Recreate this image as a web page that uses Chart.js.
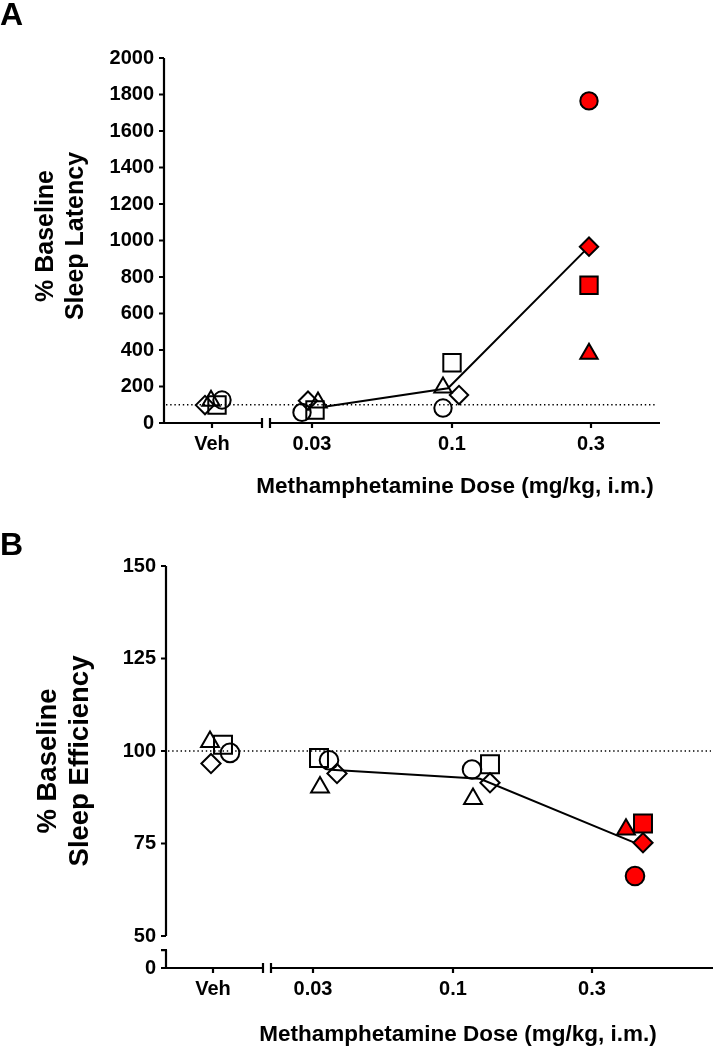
<!DOCTYPE html>
<html>
<head>
<meta charset="utf-8">
<script src="https://cdn.jsdelivr.net/npm/chart.js@4.4.0/dist/chart.umd.min.js"></script>
<style>
  body { margin: 0; background: #fff; }
  canvas { display: block; }
</style>
</head>
<body>
<canvas id="chartA" width="713" height="525"></canvas>
<canvas id="chartB" width="713" height="525"></canvas>
<script>
// ---- data ----
var doses = ["Veh", "0.03", "0.1", "0.3"];

// A: % baseline sleep latency, one array per animal (symbol)
var latCircle = [126, 58, 82, 1765];
var latSquare = [99, 71, 330, 755];
var latTriangle = [122, 112, 195, 380];
var latDiamond = [98, 122, 153, 966];
var latTicks = [0, 200, 400, 600, 800, 1000, 1200, 1400, 1600, 1800, 2000];

// B: % baseline sleep efficiency
var effCircle = [99.5, 97.5, 95.0, 66.2];
var effSquare = [101.7, 98.1, 96.4, 80.4];
var effTriangle = [102.5, 90.2, 87.1, 78.8];
var effDiamond = [96.6, 93.9, 91.4, 75.2];
var effTicks = [0, 50, 75, 100, 125, 150];

var baseline = 100;

// ---- layout (x units are 100 px) ----
var PX = 100;
var tickPos = [0, 1, 2.4, 3.79];
var xBreak = [0.5, 0.58];

// horizontal scatter of the symbols, in px from the tick
var jitA = {
  circle: [10, -10, -9, -2],
  square: [5, 3, 0, -2],
  triangle: [-1, 6, -9, -2],
  diamond: [-7, -4, 7, -2],
  mean: [14, -4, -2]
};
var jitB = {
  circle: [17, 16, 19, 43],
  square: [10, 6, 37, 51],
  triangle: [-3, 7, 20, 34],
  diamond: [-2, 24, 37, 51],
  mean: [18, 27, 43]
};

var FONT = "'Liberation Sans', Arial, sans-serif";

function symbolSet(values, shape, radius, jit) {
  return {
    type: "scatter",
    data: values.map(function(v, i) {
      return { x: tickPos[i] + jit[i] / PX, y: v };
    }),
    pointStyle: shape,
    pointRadius: radius,
    pointHoverRadius: radius,
    pointBorderWidth: 2,
    pointBorderColor: "#000",
    pointBackgroundColor: values.map(function(v, i) {
      return i === 3 ? "#ff0000" : "rgba(0,0,0,0)";
    })
  };
}

function meanSet(cols, jit) {
  var pts = [];
  for (var i = 1; i < doses.length; i++) {
    var sum = 0;
    for (var c = 0; c < cols.length; c++) sum += cols[c][i];
    pts.push({ x: tickPos[i] + jit[i - 1] / PX, y: sum / cols.length });
  }
  return {
    type: "scatter",
    showLine: true,
    data: pts,
    borderColor: "#000",
    borderWidth: 2,
    pointRadius: 0
  };
}

// axis lines, breaks, tick marks, dotted baseline
var axisPlugin = {
  id: "axisLines",
  beforeDatasetsDraw: function(chart, args, o) {
    var ctx = chart.ctx;
    var xs = chart.scales.x;
    var ys = chart.scales.y;
    var ca = chart.chartArea;
    var x0 = ca.left;
    var yb = ca.bottom;
    ctx.save();
    ctx.strokeStyle = "#000";
    ctx.lineWidth = 2.2;

    // y axis
    ctx.beginPath();
    if (o.yBreak) {
      ctx.moveTo(x0, ys.getPixelForValue(ys.max));
      ctx.lineTo(x0, ys.getPixelForValue(o.yBreak[1]));
      ctx.moveTo(x0, ys.getPixelForValue(o.yBreak[0]));
      ctx.lineTo(x0, yb);
      ctx.moveTo(x0 - 5, ys.getPixelForValue(o.yBreak[0]));
      ctx.lineTo(x0 + 1, ys.getPixelForValue(o.yBreak[0]));
    } else {
      ctx.moveTo(x0, ys.getPixelForValue(ys.max));
      ctx.lineTo(x0, yb);
    }
    ys.ticks.forEach(function(t) {
      var y = ys.getPixelForValue(t.value);
      ctx.moveTo(x0 - 5, y);
      ctx.lineTo(x0, y);
    });
    ctx.stroke();

    // x axis with break
    var b0 = xs.getPixelForValue(xBreak[0]);
    var b1 = xs.getPixelForValue(xBreak[1]);
    ctx.beginPath();
    ctx.moveTo(x0 - 5, yb);
    ctx.lineTo(b0, yb);
    ctx.moveTo(b1, yb);
    ctx.lineTo(o.xEnd, yb);
    ctx.moveTo(b0, yb - 5);
    ctx.lineTo(b0, yb + 5);
    ctx.moveTo(b1, yb - 5);
    ctx.lineTo(b1, yb + 5);
    tickPos.forEach(function(p) {
      var x = xs.getPixelForValue(p);
      ctx.moveTo(x, yb);
      ctx.lineTo(x, yb + 5);
    });
    ctx.stroke();

    // dotted 100 % line
    var y100 = ys.getPixelForValue(baseline);
    ctx.beginPath();
    ctx.lineWidth = 1.4;
    ctx.setLineDash([1.4, 2.8]);
    ctx.moveTo(x0 + 2, y100);
    ctx.lineTo(o.dotEnd, y100);
    ctx.stroke();
    ctx.restore();
  },
  afterDraw: function(chart, args, o) {
    var ctx = chart.ctx;
    ctx.save();
    ctx.fillStyle = "#000";
    // panel letter
    ctx.font = "bold 32px " + FONT;
    ctx.textAlign = "left";
    ctx.textBaseline = "alphabetic";
    ctx.fillText(o.letter, 0, o.letterY);
    // x title
    ctx.font = "bold 22.5px " + FONT;
    ctx.textAlign = "center";
    ctx.textBaseline = "middle";
    ctx.fillText("Methamphetamine Dose (mg/kg, i.m.)", o.xTitle[0], o.xTitle[1]);
    // y title, two lines
    ctx.font = "bold " + o.ySize + "px " + FONT;
    for (var i = 0; i < o.yTitle.length; i++) {
      ctx.save();
      ctx.translate(o.yTitleX[i], o.yTitleY);
      ctx.rotate(-Math.PI / 2);
      ctx.fillText(o.yTitle[i], 0, 0);
      ctx.restore();
    }
    ctx.restore();
  }
};

function makeChart(id, sets, y, x, pad, plug) {
  return new Chart(document.getElementById(id), {
    data: { datasets: sets },
    plugins: [axisPlugin],
    options: {
      responsive: false,
      animation: false,
      events: [],
      layout: { padding: pad, autoPadding: false },
      plugins: {
        legend: { display: false },
        tooltip: { enabled: false },
        axisLines: plug
      },
      scales: {
        x: {
          type: "linear",
          min: x.min,
          max: x.max,
          border: { display: false },
          grid: { display: false, drawTicks: false },
          afterBuildTicks: function(s) {
            s.ticks = tickPos.map(function(p) { return { value: p }; });
          },
          afterFit: function(s) {
            s.height = x.height;
            s.paddingLeft = 0;
            s.paddingRight = 0;
          },
          ticks: {
            padding: 9,
            maxRotation: 0,
            autoSkip: false,
            color: "#000",
            font: { family: FONT, size: 20, weight: "bold" },
            callback: function(v, i) { return doses[i]; }
          }
        },
        y: {
          type: "linear",
          min: y.min,
          max: y.max,
          border: { display: false },
          grid: { display: false, drawTicks: false },
          afterBuildTicks: function(s) {
            s.ticks = y.ticks.map(function(v) { return { value: Math.max(v, s.min) }; });
          },
          afterFit: function(s) {
            s.width = y.width;
            s.paddingTop = 0;
            s.paddingBottom = 0;
          },
          ticks: {
            padding: 10,
            color: "#000",
            font: { family: FONT, size: 20, weight: "bold" },
            callback: function(v, i) { return String(y.ticks[i]); }
          }
        }
      }
    }
  });
}

// ---- panel A ----
makeChart("chartA", [
  symbolSet(latCircle, "circle", 8.7, jitA.circle),
  symbolSet(latSquare, "rect", 12.3, jitA.square),
  symbolSet(latTriangle, "triangle", 10, jitA.triangle),
  symbolSet(latDiamond, "rectRot", 9.2, jitA.diamond),
  meanSet([latCircle, latSquare, latTriangle, latDiamond], jitA.mean)
], { min: 0, max: 2000, ticks: latTicks, width: 164 },
   { min: -0.48, max: 4.48, height: 102 },
   { top: 58, right: 53, left: 0, bottom: 0 },
   { letter: "A", letterY: 25, xEnd: 660, dotEnd: 656,
     xTitle: [455, 487], yTitle: ["% Baseline", "Sleep Latency"],
     yTitleX: [46, 76], yTitleY: 236, ySize: 25 });

// ---- panel B (broken y axis between 0 and 50) ----
makeChart("chartB", [
  symbolSet(effCircle, "circle", 9.3, jitB.circle),
  symbolSet(effSquare, "rect", 12.7, jitB.square),
  symbolSet(effTriangle, "triangle", 10.3, jitB.triangle),
  symbolSet(effDiamond, "rectRot", 9.6, jitB.diamond),
  meanSet([effCircle, effSquare, effTriangle, effDiamond], jitB.mean)
], { min: 41.35, max: 150, ticks: effTicks, width: 166 },
   { min: -0.47, max: 5.0, height: 82 },
   { top: 41, right: 0, left: 0, bottom: 0 },
   { letter: "B", letterY: 30, xEnd: 713, dotEnd: 711, yBreak: [46.2, 50],
     xTitle: [458, 510], yTitle: ["% Baseline", "Sleep Efficiency"],
     yTitleX: [48, 80], yTitleY: 236, ySize: 27.5 });
</script>
</body>
</html>
